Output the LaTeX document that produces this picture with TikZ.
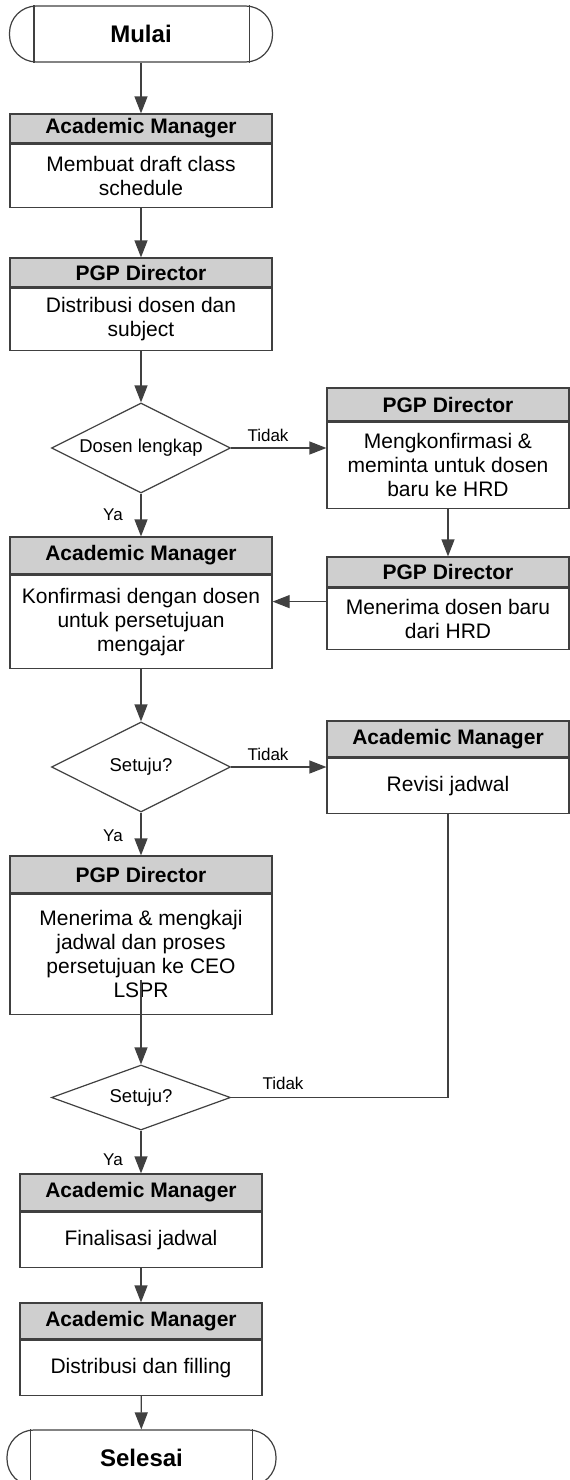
\documentclass[tikz,border=0pt]{standalone}
\usepackage{fontspec}
\setmainfont{Liberation Sans}
\usetikzlibrary{positioning,shapes.geometric,arrows.meta}

\begin{document}
\begin{tikzpicture}[x=1pt, y=-1pt, line width=1.2pt,
	every node/.style={font=\fontsize{21}{24}\selectfont},
	term/.style={draw=black!75, rounded corners=27pt, minimum width=263pt, minimum height=56pt, font=\bfseries\fontsize{24}{28}\selectfont},
	head/.style={draw=black!75, fill=black!19, minimum width=262pt, inner sep=0pt, font=\bfseries\fontsize{21}{24}\selectfont},
	body/.style={draw=black!75, fill=white, minimum width=262pt, inner sep=0pt, align=center, below=0pt of #1},
	cond/.style={draw=black!75, diamond, aspect=2, inner sep=0pt, minimum width=179pt, minimum height=90pt, font=\fontsize{18.5}{22}\selectfont},
	lbl/.style={font=\fontsize{17}{20}\selectfont},
	arr/.style={draw=black!75, -{Triangle[length=17pt, width=13pt]}}]
	\useasboundingbox (0,0) rectangle (570,1480);
	% start
	\node[term] (start) at (141,34) {Mulai};
	\draw[black!75] ([xshift=25pt]start.south west) -- ([xshift=25pt]start.north west) ([xshift=-24pt]start.south east) -- ([xshift=-24pt]start.north east);
	% main column
	\node[head, minimum height=29pt] (b1h) at (141,128.5) {Academic Manager};
	\node[body=b1h, minimum height=63pt] (b1) {Membuat draft class\\schedule};
	\node[head, minimum height=29pt] (b2h) at (141,272.5) {PGP Director};
	\node[body=b2h, minimum height=62pt] (b2) {Distribusi dosen dan\\subject};
	\node[cond] (d1) at (141,448) {Dosen lengkap};
	\node[head, minimum height=37pt] (b3h) at (141,555.5) {Academic Manager};
	\node[body=b3h, minimum height=93pt] (b3) {Konfirmasi dengan dosen\\untuk persetujuan\\mengajar};
	\node[cond] (d2) at (141,767) {Setuju?};
	\node[head, minimum height=37pt] (b4h) at (141,874.5) {PGP Director};
	\node[body=b4h, minimum height=120pt] (b4) {Menerima \& mengkaji\\jadwal dan proses\\persetujuan ke CEO\\LSPR};
	\node[cond, minimum height=65pt] (d3) at (141,1097.5) {Setuju?};
	\node[head, minimum height=37pt, minimum width=242pt] (b5h) at (141,1192.5) {Academic Manager};
	\node[body=b5h, minimum height=55pt, minimum width=242pt] (b5) {Finalisasi jadwal};
	\node[head, minimum height=36pt, minimum width=242pt] (b6h) at (141,1321) {Academic Manager};
	\node[body=b6h, minimum height=55pt, minimum width=242pt] (b6) {Distribusi dan filling};
	\node[term, minimum width=269pt] (end) at (141.5,1458) {Selesai};
	\draw[black!75] ([xshift=24pt]end.south west) -- ([xshift=24pt]end.north west) ([xshift=-24pt]end.south east) -- ([xshift=-24pt]end.north east);
	% side column
	\node[head, minimum height=33pt, minimum width=242pt] (r1h) at (448,404.5) {PGP Director};
	\node[body=r1h, minimum height=86pt, minimum width=242pt] (r1) {Mengkonfirmasi \&\\meminta untuk dosen\\baru ke HRD};
	\node[head, minimum height=30pt, minimum width=242pt] (r2h) at (448,572) {PGP Director};
	\node[body=r2h, minimum height=61pt, minimum width=242pt] (r2) {Menerima dosen baru\\dari HRD};
	\node[head, minimum height=36pt, minimum width=242pt] (r3h) at (448,739) {Academic Manager};
	\node[body=r3h, minimum height=55pt, minimum width=242pt] (r3) {Revisi jadwal};
	% connectors
	\draw[arr] (start) -- (b1h);
	\draw[arr] (b1) -- (b2h);
	\draw[arr] (b2) -- (d1);
	\draw[arr] (d1) -- (b3h);
	\draw[arr] (d1.east) -- (d1.east -| r1.west);
	\draw[arr] (r1) -- (r2h);
	\draw[arr] (r2.172) -- (r2.172 -| b3.east);
	\draw[arr] (b3) -- (d2);
	\draw[arr] (d2.east) -- (d2.east -| r3.west);
	\draw[arr] (d2) -- (b4h);
	\draw[arr] ([yshift=35pt]b4.south) -- (d3.north);
	\draw[black!75] (r3.south) |- (d3.east);
	\draw[arr] (d3) -- (b5h);
	\draw[arr] (b5) -- (b6h);
	\draw[arr] (b6) -- (end);
	% branch labels
	\node[lbl] (no1) at (268,435) {Tidak};
	\node[lbl] (no2) at (268,754) {Tidak};
	\node[lbl] (no3) at (283,1083) {Tidak};
	\node[lbl] (yes1) at (113,515) {Ya};
	\node[lbl] (yes2) at (113,836) {Ya};
	\node[lbl] (yes3) at (113,1160) {Ya};
\end{tikzpicture}
\end{document}
